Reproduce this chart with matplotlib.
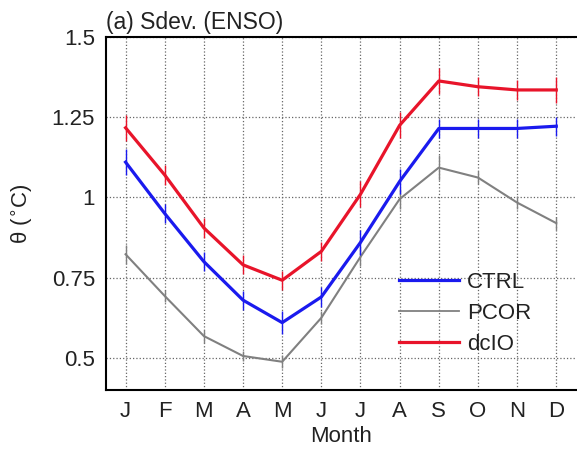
import matplotlib
matplotlib.use("Agg")
import matplotlib.pyplot as plt
from matplotlib.lines import Line2D
import numpy as np

plt.rcParams['font.family'] = ['Liberation Sans', 'DejaVu Sans']

months = ['J', 'F', 'M', 'A', 'M', 'J', 'J', 'A', 'S', 'O', 'N', 'D']
ctrl = [1.11, 0.95, 0.80, 0.68, 0.61, 0.69, 0.86, 1.05, 1.215, 1.215, 1.215, 1.222]
pcor = [0.823, 0.693, 0.568, 0.506, 0.488, 0.625, 0.815, 0.995, 1.093, 1.062, 0.984, 0.92]
dcio = [1.217, 1.07, 0.905, 0.79, 0.742, 0.832, 1.01, 1.225, 1.363, 1.345, 1.335, 1.335]
ctrl_err = [0.04, 0.03, 0.03, 0.03, 0.035, 0.03, 0.04, 0.04, 0.03, 0.03, 0.03, 0.03]
pcor_err = [0.03, 0.02, 0.02, 0.015, 0.02, 0.02, 0.03, 0.03, 0.04, 0.02, 0.02, 0.02]
dcio_err = [0.04, 0.03, 0.03, 0.03, 0.03, 0.03, 0.04, 0.04, 0.04, 0.03, 0.03, 0.04]

fig = plt.figure(figsize=(5.77, 4.51), dpi=100)
ax = fig.add_axes([106/577, 1-390/451, 1-106/577-0.002, (390-37)/451])

x = np.arange(1, 13)
ax.errorbar(x, ctrl, yerr=ctrl_err, color='#1a1aee', lw=2.3, elinewidth=1.0, capsize=0, zorder=3)
ax.errorbar(x, pcor, yerr=pcor_err, color='#808080', lw=1.5, elinewidth=1.0, capsize=0, zorder=2)
ax.errorbar(x, dcio, yerr=dcio_err, color='#e8142a', lw=2.3, elinewidth=1.0, capsize=0, zorder=3)

ax.set_xlim(0.5, 12.5)
ax.set_ylim(0.4, 1.5)
ax.set_xticks(x)
ax.set_xticklabels(months)
ax.set_yticks([0.5, 0.75, 1.0, 1.25, 1.5])
ax.set_yticklabels(['0.5', '0.75', '1', '1.25', '1.5'])
ax.tick_params(direction='in', length=0, labelsize=16, pad=8, labelcolor='#222222')
ax.grid(True, linestyle=':', color='#666666', lw=0.9)
for s in ['left', 'bottom', 'top']:
    ax.spines[s].set_linewidth(1.5)
ax.spines['right'].set_visible(False)

ax.set_xlabel('Month', fontsize=16, labelpad=3, color='#222222')
ax.set_ylabel('θ ($^{\\circ}$C)', fontsize=16, labelpad=12, color='#222222')
ax.set_title('(a) Sdev. (ENSO)', fontsize=16.5, loc='left', pad=6, color='#222222')

h = [Line2D([], [], color='#1a1aee', lw=2.3), Line2D([], [], color='#808080', lw=1.3),
     Line2D([], [], color='#e8142a', lw=2.3)]
leg = ax.legend(h, ['CTRL', 'PCOR', 'dcIO'], loc='center left', bbox_to_anchor=(0.624, 0.218),
                frameon=False, fontsize=16, handlelength=2.7, handletextpad=0.35,
                labelspacing=0.45, borderpad=0, borderaxespad=0)
for t in leg.get_texts():
    t.set_color('#222222')

fig.savefig('out.png', dpi=100)
